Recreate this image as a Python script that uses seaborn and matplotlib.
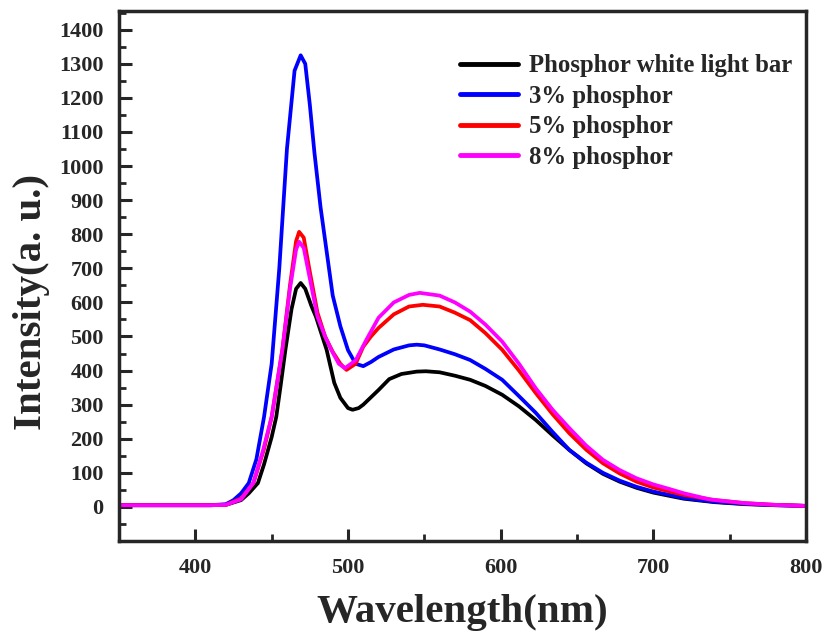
import numpy as np
import pandas as pd
import matplotlib
matplotlib.use("Agg")
import matplotlib.pyplot as plt
import seaborn as sns
from matplotlib.ticker import MultipleLocator

series_names = ["Phosphor white light bar", "3% phosphor", "5% phosphor", "8% phosphor"]
series_colors = ["#000000", "#0000FF", "#FF0000", "#FF00FF"]

wl_black = [350, 380, 410, 420, 430, 435, 441, 445, 450, 453, 456, 459, 463, 466, 469, 472, 476, 479, 486, 491, 495, 500, 503, 507, 510, 520, 527, 535, 545, 551, 560, 570, 580, 590, 601, 612, 623, 634, 645, 656, 667, 678, 689, 700, 711, 720, 740, 760, 780, 800]
int_black = [5, 5, 5, 6, 20, 40, 70, 125, 205, 264, 360, 461, 580, 640, 657, 640, 590, 558, 461, 364, 320, 290, 285, 290, 300, 343, 375, 390, 397, 398, 395, 385, 373, 355, 329, 295, 255, 210, 167, 128, 97, 74, 56, 42, 32, 24, 14, 8, 5, 3]

wl_blue = [350, 380, 410, 420, 425, 430, 435, 440, 445, 450, 455, 460, 465, 469, 472, 475, 478, 482, 486, 490, 495, 500, 505, 510, 515, 520, 530, 540, 545, 550, 560, 570, 580, 590, 601, 612, 623, 634, 645, 656, 667, 678, 689, 700, 711, 720, 740, 760, 780, 800]
int_blue = [5, 5, 5, 8, 20, 40, 70, 140, 264, 420, 700, 1050, 1280, 1325, 1300, 1180, 1040, 880, 750, 620, 530, 460, 420, 413, 425, 440, 462, 474, 476, 474, 462, 448, 431, 405, 373, 325, 276, 220, 167, 130, 100, 77, 59, 45, 35, 26, 15, 9, 5, 3]

wl_red = [350, 380, 410, 420, 430, 438, 445, 450, 457, 462, 466, 468, 471, 475, 480, 485, 490, 495, 499, 505, 510, 515, 520, 530, 540, 549, 560, 570, 580, 590, 601, 612, 623, 634, 645, 656, 667, 678, 689, 700, 711, 720, 740, 760, 780, 800]
int_red = [5, 5, 5, 6, 25, 70, 170, 264, 461, 650, 780, 807, 790, 690, 570, 500, 455, 420, 402, 420, 470, 500, 525, 565, 588, 593, 588, 570, 548, 510, 461, 400, 334, 272, 216, 168, 128, 98, 74, 57, 45, 35, 20, 11, 6, 3]

wl_mag = [350, 380, 410, 420, 430, 438, 444, 450, 457, 462, 466, 468, 471, 475, 480, 485, 489, 494, 498, 505, 512, 520, 530, 540, 547, 560, 570, 580, 590, 601, 612, 623, 634, 645, 656, 667, 678, 689, 700, 711, 720, 737, 760, 780, 800]
int_mag = [5, 5, 5, 6, 22, 70, 160, 264, 461, 640, 755, 778, 760, 670, 558, 500, 461, 420, 407, 430, 490, 555, 600, 622, 628, 620, 600, 573, 535, 485, 420, 348, 285, 231, 180, 138, 108, 84, 66, 52, 40, 22, 11, 6, 3]

x_ticks = [400, 500, 600, 700, 800]
y_ticks = list(range(0, 1401, 100))

frames = []
for name, wl, it in zip(series_names,
                        [wl_black, wl_blue, wl_red, wl_mag],
                        [int_black, int_blue, int_red, int_mag]):
    frames.append(pd.DataFrame({"Wavelength": wl, "Intensity": it, "Sample": name}))
df = pd.concat(frames, ignore_index=True)

sns.set_style("ticks")
plt.rcParams["font.family"] = ["Liberation Serif", "DejaVu Serif"]
plt.rcParams["font.weight"] = "bold"

fig = plt.figure(figsize=(8.28, 6.36), dpi=100)
ax = fig.add_axes([119/828, 1 - 541/636, (806-119)/828, (541-11)/636])

sns.lineplot(data=df, x="Wavelength", y="Intensity", hue="Sample",
             hue_order=series_names, palette=dict(zip(series_names, series_colors)),
             sort=False, estimator=None, linewidth=2.7, ax=ax)

ax.set_xlim(350, 800)
ax.set_ylim(-100, 1455)
ax.set_xticks(x_ticks)
ax.set_yticks(y_ticks)
ax.xaxis.set_minor_locator(MultipleLocator(50))
ax.yaxis.set_minor_locator(MultipleLocator(50))
ax.tick_params(which="major", direction="in", length=9, width=2.2,
               labelsize=16, top=False, right=False)
ax.tick_params(axis="y", which="major", pad=11)
ax.tick_params(axis="x", which="major", pad=12)
ax.tick_params(which="minor", direction="in", length=5, width=2.0,
               top=False, right=False)
for lbl in ax.get_xticklabels() + ax.get_yticklabels():
    lbl.set_fontweight("bold")
for sp in ax.spines.values():
    sp.set_linewidth(2.5)
    sp.set_visible(True)

ax.set_xlabel("Wavelength(nm)", fontsize=29.5, fontweight="bold")
ax.set_ylabel("Intensity(a. u.)", fontsize=29.5, fontweight="bold")
ax.xaxis.set_label_coords(0.5, -0.10)
ax.yaxis.set_label_coords(-0.10, 0.45)

leg = ax.legend(loc="upper left", bbox_to_anchor=(0.496, 0.918), frameon=False,
                prop={"size": 17.8, "weight": "bold"}, handlelength=2.35,
                handletextpad=0.45, labelspacing=0.3, borderaxespad=0.0,
                borderpad=0.0)
for h in leg.get_lines():
    h.set_linewidth(3.5)

fig.savefig("out.png", dpi=100)
